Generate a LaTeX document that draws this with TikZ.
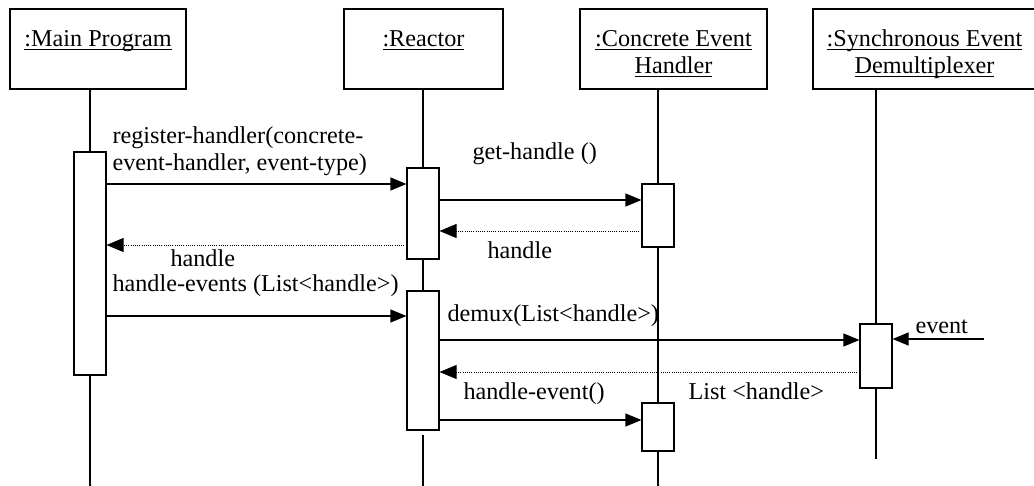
\documentclass[tikz,border=0pt]{standalone}
\usepackage{fontspec}
\setmainfont{Liberation Serif}
\usetikzlibrary{arrows.meta}
\newcommand{\ulname}[1]{\setbox0=\hbox{#1}\rlap{\rule[-3.6pt]{\wd0}{1.1pt}}\box0}
\tikzstyle{msg} = [line width=1.1pt, -{Triangle[length=16pt,width=13pt]}]
\tikzstyle{ret} = [line width=0.7pt, dash pattern=on 0.8pt off 1.4pt,
    -{Triangle[length=17pt,width=14pt]}]

\begin{document}
\begin{tikzpicture}[x=1pt, y=-1pt, line width=1.1pt,
    font=\fontsize{24.2}{27}\selectfont]
    \tikzstyle{objbox} = [rectangle, draw, minimum height=80pt, inner sep=0pt]
    \tikzstyle{objname} = [anchor=base, align=center, inner sep=0pt]
    \tikzstyle{act} = [rectangle, draw, fill=white, minimum width=32pt, inner sep=0pt]
    \tikzstyle{msgtext} = [anchor=base west, inner sep=0pt]

    \useasboundingbox (0,0) rectangle (1034,485);

    \node [objbox, minimum width=176pt] (main) at (98,49) {};
    \node [objbox, minimum width=159pt] (reactor) at (423.5,49) {};
    \node [objbox, minimum width=187pt] (handler) at (673.5,49) {};
    \node [objbox, minimum width=223pt] (demux) at (924.5,49) {};

    \node [objname] (mainname) at (98,46) {\ulname{:Main Program}};
    \node [objname] (reactorname) at (423.5,46) {\ulname{:Reactor}};
    \node [objname] (handlername) at (673.5,73) {\ulname{:Concrete Event}\\\ulname{Handler}};
    \node [objname] (demuxname) at (924.5,73) {\ulname{:Synchronous Event}\\\ulname{Demultiplexer}};

    \node [act, minimum height=223pt] (mainact) at (90,263.5) {};
    \node [act, minimum height=91pt] (reactact1) at (423,213.5) {};
    \node [act, minimum height=139pt] (reactact2) at (423,360.5) {};
    \node [act, minimum height=63pt] (handleract1) at (658,215.5) {};
    \node [act, minimum height=48pt] (handleract2) at (658,427) {};
    \node [act, minimum height=64pt] (demuxact) at (876,356) {};

    \coordinate (mainend) at (90,486);
    \coordinate (reactend) at (423,486);
    \coordinate (handlerend) at (658,486);
    \coordinate (demuxend) at (876,459);
    \coordinate (evsrc) at (984,339);

    \draw (main.south -| mainact) -- (mainact.north);
    \draw (mainact.south) -- (mainend);
    \draw (reactor.south -| reactact1) -- (reactact1.north);
    \draw (reactact1.south) -- (reactact2.north);
    \draw ([yshift=-4pt]reactact2.south) -- (reactend);
    \draw (handler.south -| handleract1) -- (handleract1.north);
    \draw (handleract1.south) -- (handleract2.north);
    \draw (handleract2.south) -- (handlerend);
    \draw (demux.south -| demuxact) -- (demuxact.north);
    \draw (demuxact.south) -- (demuxend);

    \coordinate (m1) at (0,184);
    \coordinate (m2) at (0,200);
    \coordinate (m3) at (0,231);
    \coordinate (m4) at (0,245);
    \coordinate (m5) at (0,316);
    \coordinate (m6) at (0,340);
    \coordinate (m7) at (0,372);
    \coordinate (m8) at (0,420);

    \draw [msg] (mainact.east |- m1) -- (reactact1.west |- m1);
    \draw [msg] (reactact1.east |- m2) -- (handleract1.west |- m2);
    \draw [ret] (handleract1.west |- m3) -- (reactact1.east |- m3);
    \draw [ret] (reactact1.west |- m4) -- (mainact.east |- m4);
    \draw [msg] (mainact.east |- m5) -- (reactact2.west |- m5);
    \draw [msg] (reactact2.east |- m6) -- (demuxact.west |- m6);
    \draw [msg] (evsrc) -- (demuxact.east |- evsrc);
    \draw [ret] (demuxact.west |- m7) -- (reactact2.east |- m7);
    \draw [msg] (reactact2.east |- m8) -- (handleract2.west |- m8);

    \node [msgtext, align=left] (reglbl) at (112,170) {register-handler(concrete-\\event-handler, event-type)};
    \node [msgtext] (gethandlelbl) at (472,159) {get-handle ()};
    \node [msgtext] (handlelbl1) at (487,258) {handle};
    \node [msgtext] (handlelbl2) at (170,266) {handle};
    \node [msgtext] (eventslbl) at (112,291) {handle-events (List<handle>)};
    \node [msgtext] (demuxlbl) at (447,321) {demux(List<handle>)};
    \node [msgtext] (eventlbl) at (915,333) {event};
    \node [msgtext] (handleeventlbl) at (463,399) {handle-event()};
    \node [msgtext] (listlbl) at (688,399) {List <handle>};
\end{tikzpicture}
\end{document}
